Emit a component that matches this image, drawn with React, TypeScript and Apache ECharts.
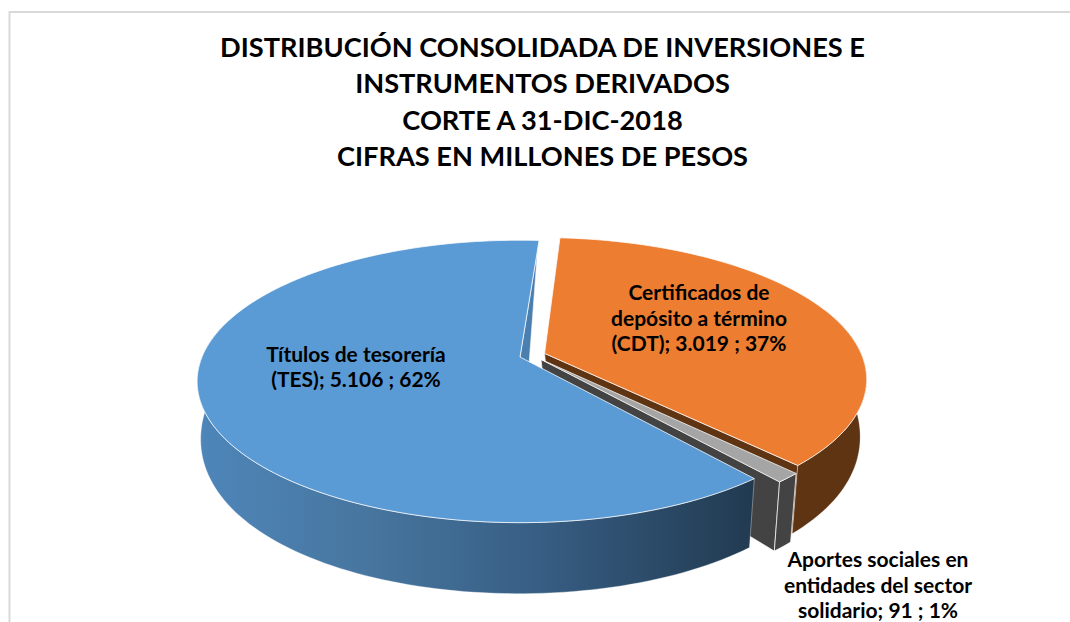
import React, { useEffect, useRef } from "react";
import * as echarts from "echarts";

const titleLines = [
  "DISTRIBUCIÓN CONSOLIDADA DE INVERSIONES E",
  "INSTRUMENTOS DERIVADOS",
  "CORTE A 31-DIC-2018",
  "CIFRAS EN MILLONES DE PESOS",
];
const categories = [
  "Títulos de tesorería\n(TES)",
  "Certificados de\ndepósito a término\n(CDT)",
  "Aportes sociales en\nentidades del sector\nsolidario",
];
const values = [5106, 3019, 91];
const labelTexts = ["5.106", "3.019", "91"];
const percentTexts = ["62%", "37%", "1%"];

const FONT = "Lato, Carlito, Calibri, sans-serif";
const FIRST_ANGLE = 140.3;
const EXPLODE = 0.041;
const APEX = [520, 357];
const R = 318;
const KR = 137;
const P = 0.173;
const LABEL_POS = [
  [356, 366],
  [699, 317],
  [878, 584],
];
const TOP_COLORS = ["#5b9bd5", "#ed7d31", "#a5a5a5"];
const PAINT_Z = [30, 10, 20];

const rad = (d: number) => (d * Math.PI) / 180;
const total = values.reduce((a, b) => a + b, 0);

function sliceAngles(i: number) {
  let a = FIRST_ANGLE;
  for (let k = 0; k < i; k++) a += (values[k] / total) * 360;
  return [a, a + (values[i] / total) * 360];
}
function circ(angle: number) {
  return [Math.sin(rad(angle)), -Math.cos(rad(angle))];
}
function sliceOffset(i: number) {
  const [a0, a1] = sliceAngles(i);
  const m = circ((a0 + a1) / 2);
  const [b0, b1] = sliceAngles(0);
  const bm = circ((b0 + b1) / 2);
  return [EXPLODE * (m[0] - bm[0]), EXPLODE * (m[1] - bm[1])];
}
function project(u: number, v: number) {
  const s = 1 / (1 - P * v);
  return [APEX[0] + R * u * s, APEX[1] + KR * v * s];
}
function projectLow(u: number, v: number) {
  const [x, y] = project(u, v);
  const centre = 7 * Math.max(0, 1 - u * u - v * v);
  return [x - 0.015 * (x - 430) + centre, y + 53 + 30 * v - 12 * v * v];
}
function arcPts(i: number, a0: number, a1: number, fn: (u: number, v: number) => number[]) {
  const o = sliceOffset(i);
  const n = Math.max(2, Math.ceil(Math.abs(a1 - a0) / 1.5));
  const out: number[][] = [];
  for (let k = 0; k <= n; k++) {
    const c = circ(a0 + ((a1 - a0) * k) / n);
    out.push(fn(c[0] + o[0], c[1] + o[1]));
  }
  return out;
}
function poly(points: number[][], fill: any, z2: number, stroke = "rgba(255,255,255,0.75)", lineWidth = 1) {
  return { type: "polygon", z2, shape: { points }, style: { fill, stroke, lineWidth, lineJoin: "round" } };
}
function wall(i: number, a0: number, a1: number, fill: any, z2: number, stroke?: string) {
  return poly([...arcPts(i, a0, a1, project), ...arcPts(i, a1, a0, projectLow)], fill, z2, stroke);
}
function cutWall(i: number, angle: number, fill: any, z2: number) {
  const o = sliceOffset(i);
  const c = circ(angle);
  return poly(
    [project(o[0], o[1]), project(c[0] + o[0], c[1] + o[1]), projectLow(c[0] + o[0], c[1] + o[1]), projectLow(o[0], o[1])],
    fill,
    z2,
    "rgba(255,255,255,0.6)"
  );
}

const blueWallFill = new echarts.graphic.LinearGradient(
  197, 0, 755, 0,
  [
    { offset: 0, color: "#4e86ba" },
    { offset: 0.3, color: "#47769f" },
    { offset: 0.6, color: "#385f85" },
    { offset: 1, color: "#213a50" },
  ],
  true
);

function renderSlice(params: any) {
  const i = params.dataIndex;
  const [a0, a1] = sliceAngles(i);
  const z = PAINT_Z[i];
  const o = sliceOffset(i);
  const children: any[] = [];
  if (i === 0) {
    children.push(cutWall(0, a1, "#4a7fb0", z));
    children.push(wall(0, a0, 285, blueWallFill, z + 1, "rgba(255,255,255,0.35)"));
  } else if (i === 1) {
    children.push(cutWall(1, a1, "#5f3413", z));
    children.push(wall(1, 430, a1, "#5f3413", z + 1, "rgba(255,255,255,0.25)"));
  } else {
    children.push(cutWall(2, a1, "#434343", z));
    children.push(wall(2, a0, a1, "#434343", z + 1));
  }
  children.push(poly([project(o[0], o[1]), ...arcPts(i, a0, a1, project)], TOP_COLORS[i], z + 2));
  const txt = `${categories[i]}; ${labelTexts[i]} ; ${percentTexts[i]}`;
  children.push({
    type: "text",
    z2: 50,
    style: {
      x: LABEL_POS[i][0],
      y: LABEL_POS[i][1],
      text: txt,
      fill: "#000",
      font: `bold 21px ${FONT}`,
      lineHeight: 25.5,
      align: "center",
      verticalAlign: "middle",
    },
  });
  return { type: "group", children };
}

export default function App() {
  const ref = useRef<HTMLDivElement>(null);
  useEffect(() => {
    const chart = echarts.init(ref.current!, null, { renderer: "svg" });
    chart.setOption({
      animation: false,
      backgroundColor: "#fff",
      title: {
        text: titleLines.join("\n"),
        left: 537.5,
        top: 23,
        textAlign: "center",
        textStyle: { fontFamily: FONT, fontWeight: "bold", fontSize: 27.2, lineHeight: 36.4, color: "#000" },
      },
      graphic: [
        {
          type: "rect",
          silent: true,
          shape: { x: 9.5, y: 12, width: 1400, height: 900 },
          style: { fill: "none", stroke: "#d9d9d9", lineWidth: 2 },
        },
      ],
      series: [
        {
          type: "custom",
          coordinateSystem: "none",
          silent: true,
          data: values,
          renderItem: renderSlice,
        },
      ],
    });
    return () => chart.dispose();
  }, []);
  return <div ref={ref} style={{ position: "fixed", left: 0, top: 0, width: 1070, height: 622 }} />;
}
